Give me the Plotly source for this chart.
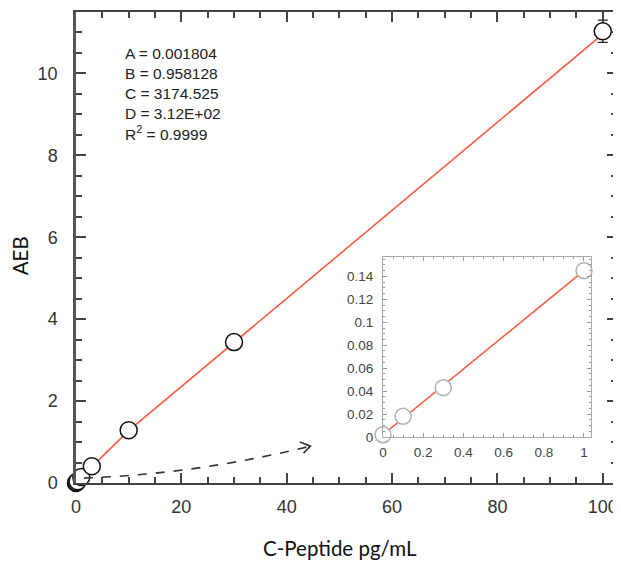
import plotly.graph_objects as go

# ---- data ----
conc = [0, 0.1, 0.3, 1, 3, 10, 30, 100]
aeb = [0.002, 0.018, 0.043, 0.145, 0.41, 1.29, 3.44, 11.03]
aeb_err = [0, 0, 0, 0, 0, 0, 0, 0.27]
fit_x = [0, 1, 10, 30, 100]
fit_y = [0.002, 0.145, 1.28, 3.43, 10.96]

inset_x = [0, 0.1, 0.3, 1]
inset_y = [0.002, 0.018, 0.043, 0.145]
inset_fit_x = [0, 1]
inset_fit_y = [0.002, 0.145]

params = ["A = 0.001804", "B = 0.958128", "C = 3174.525", "D = 3.12E+02", "R<sup>2</sup> = 0.9999"]

x_ticks = [0, 20, 40, 60, 80, 100]
y_ticks = [0, 2, 4, 6, 8, 10]
inset_xticks = [0, 0.2, 0.4, 0.6, 0.8, 1]
inset_yticks = [0, 0.02, 0.04, 0.06, 0.08, 0.1, 0.12, 0.14]
inset_ytext = ["0", "0.02", "0.04", "0.06", "0.08", "0.1", "0.12", "0.14"]

RED = "#ff5a42"

fig = go.Figure()
fig.add_trace(go.Scatter(x=fit_x, y=fit_y, mode="lines", line=dict(color=RED, width=1.6),
                         xaxis="x", yaxis="y", showlegend=False, hoverinfo="skip"))
fig.add_trace(go.Scatter(x=conc, y=aeb, mode="markers", cliponaxis=False,
                         marker=dict(symbol="circle", size=17, color="white",
                                     line=dict(color="#111", width=1.5)),
                         error_y=dict(type="data", array=aeb_err, color="#222", thickness=1.2, width=5),
                         xaxis="x", yaxis="y", showlegend=False))
fig.add_trace(go.Scatter(x=inset_fit_x, y=inset_fit_y, mode="lines", line=dict(color=RED, width=1.6),
                         xaxis="x2", yaxis="y2", showlegend=False, hoverinfo="skip"))
fig.add_trace(go.Scatter(x=inset_x, y=inset_y, mode="markers",
                         marker=dict(symbol="circle", size=16, color="white",
                                     line=dict(color="#b0b0b0", width=1.5)),
                         xaxis="x2", yaxis="y2", showlegend=False, cliponaxis=False))

tickfont = dict(family="Liberation Sans", size=18, color="#333333")
inset_font = dict(family="Liberation Sans", size=13.5, color="#444444")
title_font = dict(family="Lato", size=20.5, color="#111111")

# page body has an 8px margin, so the figure is offset by 8px; compensate in size/margins
fig.update_layout(
    width=613, height=566,
    margin=dict(l=68, r=4, t=4, b=91),
    plot_bgcolor="white", paper_bgcolor="white",
    xaxis=dict(range=[0, 102.7], tickvals=x_ticks, ticks="inside", ticklen=10, tickwidth=2,
               tickcolor="#444", showline=True, linecolor="#444", linewidth=2, mirror="allticks",
               showgrid=False, zeroline=False, tickfont=tickfont, ticklabelstandoff=6,
               automargin=False, ticklabeloverflow="allow",
               minor=dict(dtick=5, ticks="inside", ticklen=6, tickwidth=2, tickcolor="#444")),
    yaxis=dict(range=[0, 11.5], tickvals=y_ticks, ticks="inside", ticklen=10, tickwidth=2,
               tickcolor="#444", showline=True, linecolor="#555", linewidth=2.5, mirror="allticks",
               showgrid=False, zeroline=False, tickfont=tickfont, ticklabelstandoff=12,
               automargin=False, ticklabeloverflow="allow",
               minor=dict(dtick=0.5, ticks="inside", ticklen=6, tickwidth=2, tickcolor="#444")),
    xaxis2=dict(domain=[0.5675, 0.952], anchor="y2", range=[0, 1.035], tickvals=inset_xticks,
                ticks="inside", ticklen=4, tickwidth=1, tickcolor="#999", showline=True,
                linecolor="#aaa", linewidth=1.2, mirror="allticks", showgrid=False, zeroline=False,
                tickfont=inset_font, automargin=False, ticklabelstandoff=3,
                minor=dict(dtick=0.05, ticks="inside", ticklen=2, tickcolor="#999")),
    yaxis2=dict(domain=[0.0977, 0.48], anchor="x2", range=[0, 0.157], tickvals=inset_yticks,
                ticktext=inset_ytext, ticks="inside", ticklen=4, tickwidth=1, tickcolor="#999",
                showline=True, linecolor="#aaa", linewidth=1.2, mirror="allticks", showgrid=False,
                zeroline=False, tickfont=inset_font, automargin=False, ticklabelstandoff=6,
                minor=dict(dtick=0.005, ticks="inside", ticklen=2, tickcolor="#999")),
    annotations=[
        dict(text="<br>".join(params), xref="paper", yref="paper", x=0.087, y=0.935,
             xanchor="left", yanchor="top", align="left", showarrow=False,
             font=dict(family="Liberation Sans", size=15.5, color="#222")),
        dict(text="C-Peptide pg/mL", xref="paper", yref="paper", x=0.488, y=-0.138,
             xanchor="center", yanchor="middle", showarrow=False, font=title_font),
        dict(text="AEB", xref="paper", yref="paper", x=-0.103, y=0.482, textangle=-90,
             xanchor="center", yanchor="middle", showarrow=False, font=title_font),
    ],
    shapes=[
        dict(type="path", xref="x", yref="y", path="M 1.5,0.12 Q 23,0.22 44.5,0.9",
             line=dict(color="#333", width=1.6, dash="dash")),
        dict(type="path", xref="x", yref="y", path="M 42.5,1.0 L 44.5,0.9 L 43.2,0.73",
             line=dict(color="#333", width=1.6)),
    ],
)

fig.write_html("out.html")
